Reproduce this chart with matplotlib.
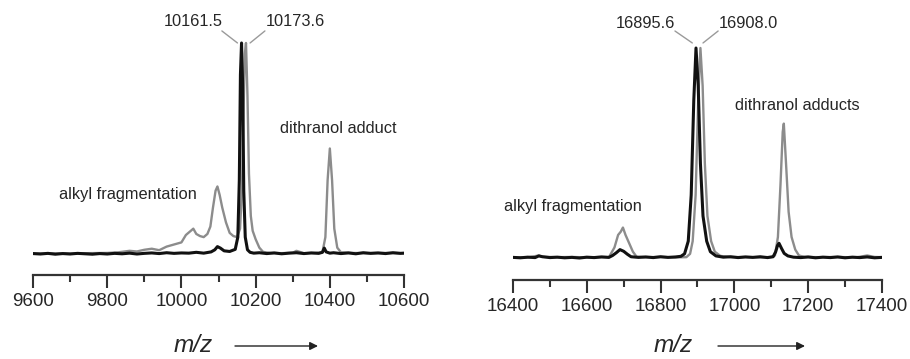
import numpy as np
import matplotlib
matplotlib.use('Agg')
import matplotlib.pyplot as plt
from matplotlib.ticker import MultipleLocator

plt.rcParams['font.family'] = ['Liberation Sans', 'DejaVu Sans']

# left spectrum (~10 kDa), intensities normalised to the main peak
left_black_mz = [9600, 9620, 9640, 9660, 9680, 9700, 9720, 9740, 9760, 9780, 9800, 9820, 9840,
                 9860, 9880, 9900, 9920, 9940, 9960, 9980, 10000, 10020, 10040, 10060, 10080,
                 10090, 10097, 10105, 10115, 10130, 10145, 10152, 10156, 10159, 10162, 10165,
                 10168, 10172, 10178, 10185, 10195, 10210, 10230, 10250, 10270, 10290, 10310,
                 10330, 10350, 10370, 10380, 10385, 10390, 10400, 10410, 10430, 10450, 10470,
                 10490, 10510, 10530, 10550, 10570, 10590, 10600]
left_black_int = [0.002, 0.000, 0.003, -0.001, 0.002, 0.000, 0.003, 0.001, -0.001, 0.002, 0.000,
                  0.003, 0.001, 0.004, 0.000, 0.003, 0.005, 0.002, 0.006, 0.003, 0.005, 0.004,
                  0.008, 0.004, 0.010, 0.020, 0.035, 0.028, 0.015, 0.012, 0.022, 0.080, 0.350,
                  0.850, 1.000, 0.800, 0.300, 0.080, 0.020, 0.008, 0.004, 0.006, 0.002, 0.005,
                  0.001, 0.004, 0.006, 0.002, 0.005, 0.003, 0.008, 0.028, 0.010, 0.004, 0.006,
                  0.002, 0.005, 0.001, 0.006, 0.003, 0.005, 0.002, 0.006, 0.003, 0.004]

left_grey_mz = [9600, 9650, 9700, 9750, 9800, 9830, 9860, 9880, 9900, 9920, 9940, 9960, 9980,
                10000, 10012, 10022, 10032, 10040, 10050, 10060, 10070, 10078, 10085, 10092,
                10097, 10103, 10110, 10120, 10130, 10140, 10150, 10158, 10163, 10167, 10171,
                10174, 10178, 10182, 10187, 10192, 10200, 10210, 10220, 10240, 10270, 10300,
                10310, 10330, 10360, 10380, 10388, 10394, 10400, 10406, 10412, 10420, 10430,
                10460, 10500, 10550, 10600]
left_grey_int = [0.002, 0.003, 0.002, 0.004, 0.005, 0.008, 0.015, 0.012, 0.020, 0.025, 0.018,
                 0.035, 0.045, 0.055, 0.090, 0.105, 0.120, 0.095, 0.085, 0.080, 0.095, 0.130,
                 0.220, 0.300, 0.320, 0.280, 0.220, 0.150, 0.100, 0.085, 0.080, 0.120, 0.300,
                 0.650, 0.950, 1.000, 0.750, 0.380, 0.180, 0.110, 0.070, 0.030, 0.010, 0.005,
                 0.004, 0.006, 0.015, 0.004, 0.005, 0.008, 0.080, 0.350, 0.500, 0.350, 0.120,
                 0.030, 0.008, 0.005, 0.004, 0.005, 0.004]

# right spectrum (~17 kDa)
right_black_mz = [16400, 16420, 16440, 16460, 16470, 16480, 16500, 16520, 16540, 16560, 16580,
                  16600, 16620, 16640, 16660, 16670, 16680, 16690, 16700, 16710, 16720, 16740,
                  16760, 16780, 16800, 16820, 16840, 16855, 16865, 16875, 16883, 16890, 16896,
                  16902, 16908, 16915, 16925, 16935, 16950, 16970, 16990, 17010, 17030, 17050,
                  17070, 17090, 17105, 17112, 17117, 17121, 17128, 17135, 17145, 17160, 17180,
                  17200, 17220, 17240, 17260, 17280, 17300, 17320, 17340, 17360, 17380, 17400]
right_black_int = [0.003, 0.001, 0.004, 0.002, 0.010, 0.006, 0.002, 0.004, 0.001, 0.003, 0.000,
                   0.004, 0.002, 0.005, 0.003, 0.012, 0.025, 0.040, 0.032, 0.018, 0.006, 0.003,
                   0.005, 0.002, 0.006, 0.003, 0.005, 0.008, 0.020, 0.080, 0.300, 0.750, 1.000,
                   0.820, 0.450, 0.200, 0.080, 0.030, 0.010, 0.004, 0.006, 0.002, 0.005, 0.003,
                   0.006, 0.002, 0.006, 0.030, 0.060, 0.070, 0.045, 0.022, 0.010, 0.004, 0.002,
                   0.005, 0.001, 0.004, 0.002, 0.005, 0.001, 0.004, 0.002, 0.005, 0.001, 0.003]

right_grey_mz = [16400, 16440, 16470, 16480, 16520, 16560, 16600, 16640, 16660, 16675, 16685,
                 16692, 16698, 16705, 16715, 16725, 16735, 16760, 16800, 16840, 16870, 16880,
                 16887, 16895, 16902, 16908, 16914, 16920, 16927, 16937, 16947, 16962, 16990,
                 17030, 17070, 17100, 17110, 17118, 17125, 17131, 17134, 17140, 17147, 17155,
                 17165, 17175, 17190, 17230, 17280, 17330, 17360, 17380, 17400]
right_grey_int = [0.004, 0.003, 0.012, 0.006, 0.004, 0.005, 0.003, 0.005, 0.004, 0.050, 0.110,
                  0.125, 0.145, 0.110, 0.070, 0.030, 0.006, 0.004, 0.005, 0.003, 0.004, 0.020,
                  0.080, 0.300, 0.750, 1.000, 0.820, 0.450, 0.200, 0.080, 0.030, 0.010, 0.004,
                  0.005, 0.003, 0.005, 0.012, 0.100, 0.350, 0.600, 0.640, 0.450, 0.220, 0.100,
                  0.040, 0.012, 0.005, 0.004, 0.005, 0.003, 0.012, 0.005, 0.004]

left_peaks = ['10161.5', '10173.6']
right_peaks = ['16895.6', '16908.0']

text_col = '#262626'
grey_col = '#8c8c8c'
black_col = '#111111'

fig = plt.figure(figsize=(9.10, 3.59), dpi=100)

ax1 = fig.add_axes([0.0363, 0.234, 0.4077, 0.6825])
ax2 = fig.add_axes([0.5637, 0.220, 0.4055, 0.6964])


def style_axis(ax, xmin, xmax, ylo, yhi):
    ax.set_xlim(xmin, xmax)
    ax.set_ylim(ylo, yhi)
    for s in ['left', 'right', 'top']:
        ax.spines[s].set_visible(False)
    ax.spines['bottom'].set_linewidth(1.6)
    ax.spines['bottom'].set_color('#333333')
    ax.set_yticks([])
    ax.xaxis.set_major_locator(MultipleLocator(200))
    ax.xaxis.set_minor_locator(MultipleLocator(100))
    ax.tick_params(axis='x', which='major', length=9, width=1.5, color='#333333',
                   labelsize=13.5, labelcolor=text_col, pad=4)
    ax.tick_params(axis='x', which='minor', length=5, width=1.5, color='#333333')


ax1.plot(left_grey_mz, left_grey_int, color=grey_col, lw=1.7)
ax1.plot(left_black_mz, left_black_int, color=black_col, lw=2.2)
style_axis(ax1, 9600, 10600, -0.0995, 1.0616)

ax2.plot(right_grey_mz, right_grey_int, color=grey_col, lw=1.7)
ax2.plot(right_black_mz, right_black_int, color=black_col, lw=2.2)
style_axis(ax2, 16400, 17400, -0.1048, 1.0857)

lead = dict(arrowstyle='-', color='#9a9a9a', lw=1.0, shrinkA=0, shrinkB=0)
fs = 11.8

# left annotations
ax1.text(10031, 1.10, left_peaks[0], ha='center', va='center', fontsize=fs, color=text_col)
ax1.text(10306, 1.10, left_peaks[1], ha='center', va='center', fontsize=fs, color=text_col)
ax1.annotate('', xy=(10151, 1.0), xytext=(10109, 1.057), arrowprops=lead, annotation_clip=False)
ax1.annotate('', xy=(10185, 1.0), xytext=(10225, 1.057), arrowprops=lead, annotation_clip=False)
ax1.text(10424, 0.597, 'dithranol adduct', ha='center', va='center', fontsize=fs, color=text_col)
ax1.text(9856, 0.284, 'alkyl fragmentation', ha='center', va='center', fontsize=fs, color=text_col)

# right annotations
ax2.text(16758, 1.119, right_peaks[0], ha='center', va='center', fontsize=fs, color=text_col)
ax2.text(17037, 1.119, right_peaks[1], ha='center', va='center', fontsize=fs, color=text_col)
ax2.annotate('', xy=(16886, 1.024), xytext=(16839, 1.081), arrowprops=lead, annotation_clip=False)
ax2.annotate('', xy=(16915, 1.024), xytext=(16956, 1.081), arrowprops=lead, annotation_clip=False)
ax2.text(17170, 0.724, 'dithranol adducts', ha='center', va='center', fontsize=fs, color=text_col)
ax2.text(16563, 0.243, 'alkyl fragmentation', ha='center', va='center', fontsize=fs, color=text_col)

# m/z labels with arrows (figure pixel fractions)
W, H = 910, 359
arrow = dict(arrowstyle='-|>', color='#222222', lw=1.0, mutation_scale=12, shrinkA=0, shrinkB=0)
for tx, ty, a0, a1 in [(193, 346, 235, 318), (673, 346, 718, 805)]:
    fig.text(tx / W, 1 - ty / H, 'm/z', style='italic', fontsize=17.5, color=text_col,
             ha='center', va='center')
    fig.add_artist(matplotlib.patches.FancyArrowPatch((a0 / W, 1 - ty / H), (a1 / W, 1 - ty / H),
                                                      transform=fig.transFigure, **arrow))

fig.savefig('out.png', dpi=100, facecolor='white')
